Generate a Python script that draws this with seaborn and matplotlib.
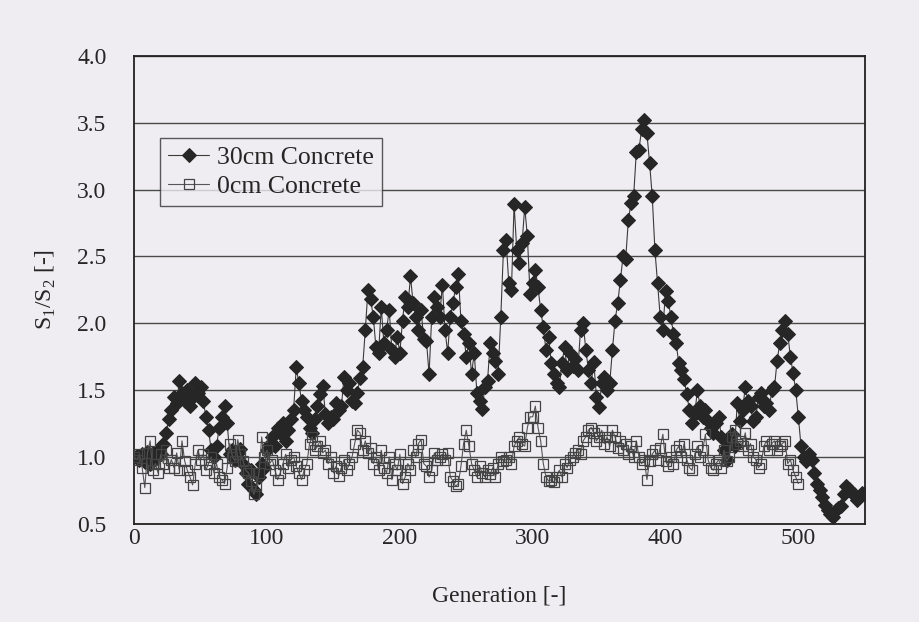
import numpy as np
import pandas as pd
import seaborn as sns
import matplotlib.pyplot as plt
from matplotlib.ticker import FormatStrFormatter

# values, one point every 2 generations
gen_30 = np.arange(0, 551, 2)
ratio_30 = [
    1.00, 1.01, 0.98, 1.02, 0.96, 1.04, 0.95, 1.03, 0.99, 1.05,
    1.02, 1.10, 1.18, 1.28, 1.35, 1.45, 1.40, 1.57, 1.48, 1.42,
    1.50, 1.38, 1.45, 1.55, 1.48, 1.52, 1.42, 1.30, 1.20, 1.05,
    1.00, 1.08, 1.22, 1.30, 1.38, 1.25, 1.02, 1.05, 0.98, 1.03,
    1.06, 0.95, 0.88, 0.80, 0.90, 0.75, 0.72, 0.85, 0.95, 0.92,
    1.05, 1.10, 1.15, 1.08, 1.22, 1.18, 1.25, 1.12, 1.20, 1.28,
    1.35, 1.67, 1.55, 1.42, 1.35, 1.30, 1.22, 1.18, 1.28, 1.38,
    1.47, 1.53, 1.32, 1.25, 1.30, 1.28, 1.40, 1.35, 1.38, 1.60,
    1.50, 1.55, 1.42, 1.40, 1.48, 1.59, 1.67, 1.95, 2.25, 2.18,
    2.05, 1.82, 1.78, 2.12, 1.85, 1.95, 2.10, 1.80, 1.75, 1.90,
    1.78, 2.02, 2.20, 2.12, 2.35, 2.15, 2.05, 1.95, 2.10, 1.88,
    1.87, 1.62, 2.05, 2.20, 2.12, 2.05, 2.29, 1.95, 1.78, 2.05,
    2.15, 2.27, 2.37, 2.02, 1.92, 1.75, 1.85, 1.62, 1.78, 1.48,
    1.42, 1.36, 1.52, 1.57, 1.85, 1.78, 1.72, 1.62, 2.05, 2.55,
    2.62, 2.30, 2.25, 2.89, 2.55, 2.45, 2.60, 2.87, 2.65, 2.22,
    2.30, 2.40, 2.27, 2.10, 1.97, 1.80, 1.90, 1.70, 1.62, 1.55,
    1.52, 1.70, 1.82, 1.65, 1.78, 1.68, 1.73, 1.65, 1.95, 2.00,
    1.80, 1.65, 1.55, 1.71, 1.45, 1.37, 1.55, 1.60, 1.50, 1.55,
    1.80, 2.02, 2.15, 2.32, 2.50, 2.48, 2.77, 2.90, 2.95, 3.28,
    3.30, 3.45, 3.52, 3.42, 3.20, 2.95, 2.55, 2.30, 2.05, 1.95,
    2.24, 2.17, 2.05, 1.92, 1.85, 1.70, 1.65, 1.58, 1.47, 1.35,
    1.25, 1.32, 1.50, 1.38, 1.30, 1.35, 1.27, 1.22, 1.18, 1.25,
    1.30, 1.15, 1.05, 0.98, 1.10, 1.17, 1.08, 1.40, 1.27, 1.35,
    1.52, 1.42, 1.38, 1.27, 1.30, 1.45, 1.48, 1.38, 1.40, 1.35,
    1.50, 1.52, 1.72, 1.85, 1.95, 2.02, 1.92, 1.75, 1.63, 1.50,
    1.30, 1.08, 1.00, 0.97, 1.02, 0.98, 0.88, 0.80, 0.75, 0.70,
    0.64, 0.60, 0.57, 0.55, 0.60, 0.62, 0.63, 0.72, 0.78, 0.76,
    0.74, 0.72, 0.68, 0.70, 0.73, 0.72,
]

gen_0 = np.arange(0, 501, 2)
ratio_0 = [
    1.00, 0.98, 1.02, 0.92, 0.77, 1.03, 1.12, 0.90, 0.95, 0.88,
    1.02, 0.95, 1.05, 0.92, 0.98, 0.92, 1.03, 0.90, 1.12, 0.97,
    0.90, 0.85, 0.79, 0.95, 1.05, 0.98, 1.02, 0.90, 0.95, 1.00,
    0.88, 0.95, 0.85, 0.83, 0.80, 0.92, 1.10, 1.00, 0.97, 1.13,
    1.02, 0.97, 0.90, 0.88, 0.82, 0.72, 0.78, 0.88, 1.15, 1.00,
    1.05, 0.95, 0.98, 0.90, 0.83, 0.88, 0.95, 1.02, 0.92, 0.98,
    1.00, 0.93, 0.88, 0.83, 0.90, 0.95, 1.10, 1.15, 1.05, 1.08,
    1.12, 1.03, 1.05, 0.95, 1.00, 0.88, 0.93, 0.86, 0.92, 0.98,
    0.90, 0.95, 1.00, 1.10, 1.20, 1.18, 1.05, 1.12, 1.03, 1.07,
    0.95, 1.00, 0.90, 1.05, 0.92, 0.88, 1.00, 0.83, 0.95, 0.90,
    1.02, 0.80, 0.85, 0.95, 0.90, 1.05, 1.00, 1.10, 1.13, 0.95,
    0.93, 0.85, 0.90, 1.03, 0.98, 1.00, 1.02, 0.98, 1.03, 0.85,
    0.82, 0.78, 0.80, 0.93, 1.10, 1.20, 1.08, 0.95, 0.90, 0.85,
    0.93, 0.88, 0.85, 0.90, 0.87, 0.92, 0.85, 0.95, 1.00, 0.97,
    0.98, 1.00, 0.95, 1.08, 1.12, 1.15, 1.10, 1.08, 1.22, 1.30,
    1.30, 1.38, 1.22, 1.12, 0.95, 0.85, 0.82, 0.83, 0.81, 0.85,
    0.90, 0.85, 0.95, 0.92, 0.98, 1.00, 1.03, 1.05, 1.02, 1.12,
    1.15, 1.20, 1.22, 1.18, 1.12, 1.15, 1.20, 1.10, 1.15, 1.08,
    1.20, 1.15, 1.07, 1.12, 1.05, 1.10, 1.02, 1.08, 1.00, 1.12,
    1.00, 0.95, 0.98, 0.83, 0.97, 1.02, 1.05, 0.98, 1.07, 1.17,
    0.97, 0.93, 1.00, 0.95, 1.05, 1.08, 1.00, 1.10, 0.98, 0.92,
    0.90, 1.02, 1.08, 1.00, 1.05, 1.17, 0.98, 0.92, 0.90, 0.95,
    0.98, 0.92, 1.05, 0.97, 1.00, 1.15, 1.20, 1.10, 1.12, 1.08,
    1.18, 1.05, 1.10, 1.00, 0.98, 0.92, 0.95, 1.08, 1.12, 1.05,
    1.10, 1.12, 1.05, 1.08, 1.10, 1.12, 0.95, 0.98, 0.90, 0.85,
    0.80,
]

bg = "#efedf1"
sns.set_style("white")
plt.rcParams["font.family"] = ["Liberation Serif", "DejaVu Serif"]
plt.rcParams["mathtext.fontset"] = "custom"
plt.rcParams["mathtext.rm"] = "Liberation Serif"

fig = plt.figure(figsize=(9.19, 6.22), dpi=100, facecolor=bg)
ax = fig.add_axes([0.146, 0.158, 0.795, 0.752])
ax.set_facecolor(bg)

sns.lineplot(x=gen_30, y=ratio_30, ax=ax, color="#3a3a3a", lw=0.8,
             marker="D", markersize=7, markerfacecolor="#262626",
             markeredgecolor="#262626", label="30cm Concrete", zorder=3)
sns.lineplot(x=gen_0, y=ratio_0, ax=ax, color="#555555", lw=0.8,
             marker="s", markersize=6.5, markerfacecolor="none",
             markeredgecolor="#444444", markeredgewidth=0.9,
             label="0cm Concrete", zorder=4)

ax.set_xlim(0, 550)
ax.set_ylim(0.5, 4.0)
ax.set_xticks([0, 100, 200, 300, 400, 500])
ax.set_yticks(np.arange(0.5, 4.01, 0.5))
ax.yaxis.set_major_formatter(FormatStrFormatter("%.1f"))
ax.grid(axis="y", color="#4a4a4a", lw=1.0)
ax.grid(axis="x", visible=False)
ax.tick_params(axis="x", direction="in", length=4, labelsize=17, pad=3)
ax.tick_params(axis="y", length=0, labelsize=17, pad=20)
for s in ax.spines.values():
    s.set_color("#222222")
    s.set_linewidth(1.3)

ax.set_xlabel("Generation [-]", fontsize=17, labelpad=26)
ax.set_ylabel(r"S$_\mathrm{1}$/S$_\mathrm{2}$ [-]", fontsize=17, labelpad=14)

leg = ax.legend(loc="upper left", bbox_to_anchor=(0.036, 0.825), fontsize=18.5,
                frameon=True, fancybox=False, facecolor=bg, edgecolor="#333333",
                handlelength=1.6, handletextpad=0.3, borderpad=0.3,
                labelspacing=0.25, borderaxespad=0)
leg.get_frame().set_linewidth(1.0)

fig.savefig("out.png", dpi=100, facecolor=bg)
